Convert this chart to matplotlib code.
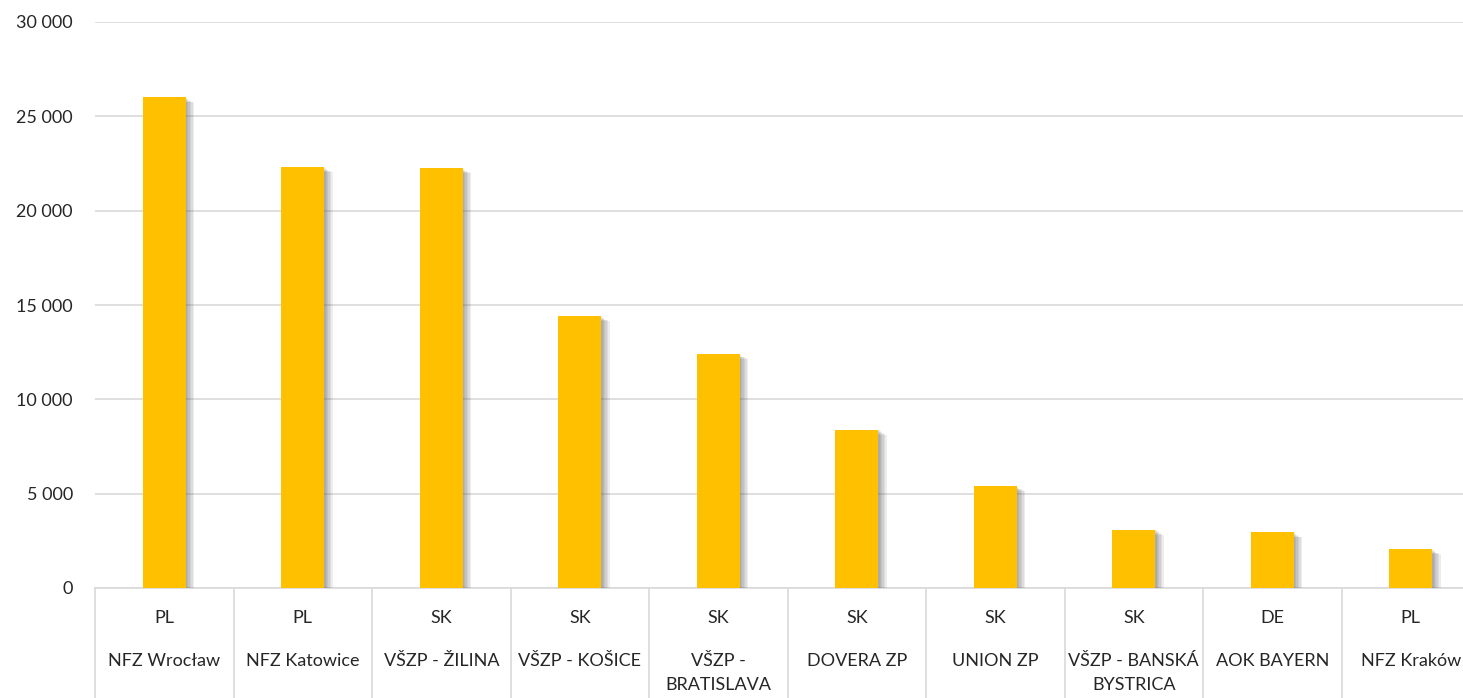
import matplotlib
matplotlib.use('Agg')
import matplotlib.pyplot as plt
import matplotlib.patheffects as pe
from matplotlib.ticker import FuncFormatter
import numpy as np

countries = ['PL', 'PL', 'SK', 'SK', 'SK', 'SK', 'SK', 'SK', 'DE', 'PL']
names = ['NFZ Wrocław', 'NFZ Katowice', 'VŠZP - ŽILINA', 'VŠZP - KOŠICE',
         'VŠZP -\nBRATISLAVA', 'DOVERA ZP', 'UNION ZP', 'VŠZP - BANSKÁ\nBYSTRICA',
         'AOK BAYERN', 'NFZ Kraków']
values = [26000, 22300, 22250, 14400, 12400, 8400, 5400, 3100, 2950, 2050]
yticks = [0, 5000, 10000, 15000, 20000, 25000, 30000]

plt.rcParams['font.family'] = ['Lato', 'DejaVu Sans']

W, H = 1463, 698
left, right, top, base = 95, 1480, 22, 588
fig = plt.figure(figsize=(W / 100, H / 100), dpi=100)
ax = fig.add_axes([left / W, 1 - base / H, (right - left) / W, (base - top) / H])

x = np.arange(len(values))
bars = ax.bar(x, values, width=0.31, color='#ffc000', zorder=3)
# soft drop shadow, built from a few faint offset copies
shadow = [pe.SimplePatchShadow(offset=(o, -o * 0.6), shadow_rgbFace='#555555', alpha=0.1)
          for o in (1, 2, 3, 4, 5, 6)]
for b in bars:
    b.set_path_effects(shadow + [pe.Normal()])

ax.set_xlim(-0.5, len(values) - 0.5)
ax.set_ylim(0, 30000)
ax.set_yticks(yticks)
ax.yaxis.set_major_formatter(FuncFormatter(lambda v, p: f'{int(v):,}'.replace(',', ' ')))
ax.tick_params(axis='y', length=0, labelsize=13, colors='#262626', pad=16)
ax.set_xticks([])
ax.grid(axis='y', color='#d9d9d9', linewidth=1.2, zorder=0)
for s in ['top', 'right', 'left']:
    ax.spines[s].set_visible(False)
ax.spines['bottom'].set_color('#d9d9d9')
ax.spines['bottom'].set_linewidth(1.2)

# two-level category axis
trans = ax.get_xaxis_transform()
ph = base - top
bottom = -(H - base) / ph
for i in range(len(values) + 1):
    ax.plot([i - 0.5, i - 0.5], [0, bottom], transform=trans, color='#d9d9d9',
            linewidth=1.2, clip_on=False)
for i, (c, n) in enumerate(zip(countries, names)):
    ax.text(i, -30 / ph, c, transform=trans, ha='center', va='center',
            fontsize=13, color='#262626')
    ax.text(i, -65 / ph, n, transform=trans, ha='center', va='top',
            fontsize=13, color='#262626', linespacing=1.65)

fig.savefig('out.png', dpi=100)
